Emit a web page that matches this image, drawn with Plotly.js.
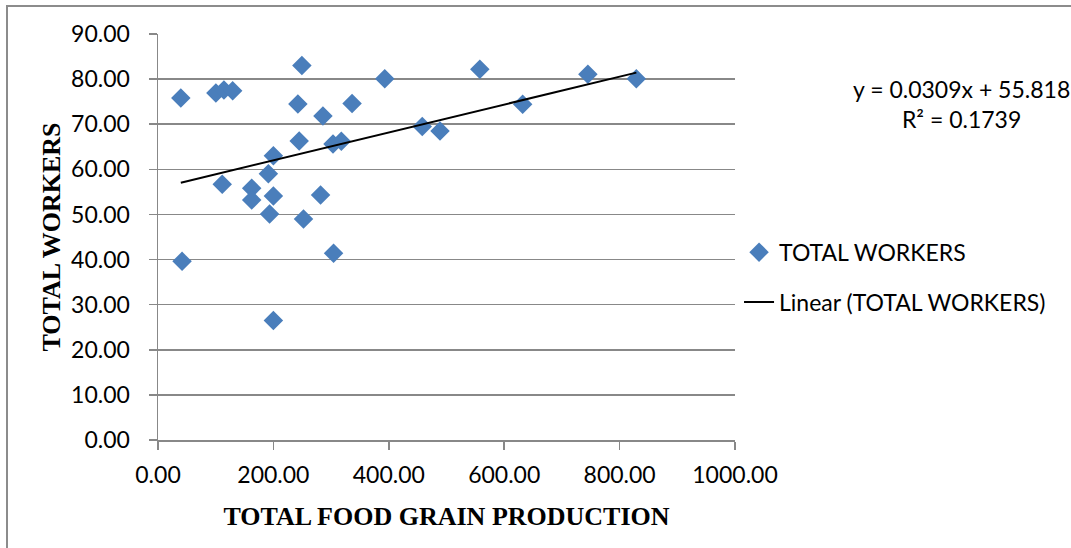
<!DOCTYPE html>
<html>
<head>
<meta charset="utf-8">
<script src="https://cdn.plot.ly/plotly-3.0.1.min.js"></script>
<style>html,body{margin:0;padding:0;background:#fff;}#chart{width:1071px;height:548px;}</style>
</head>
<body>
<div id="chart"></div>
<script>
// Data
const foodGrain = [39.5, 100.3, 114.3, 129.4, 249.4, 393.0, 242.4, 336.3, 285.9, 458.0,
                   488.7, 244.7, 303.3, 317.7, 200.0, 191.3, 111.3, 162.4, 162.4, 200.0,
                   281.7, 193.4, 252.2, 41.7, 304.3, 200.0, 557.7, 632.0, 745.0, 829.0];
const totalWorkers = [75.8, 76.9, 77.6, 77.4, 83.0, 80.1, 74.5, 74.6, 71.8, 69.5,
                      68.5, 66.3, 65.6, 66.2, 63.0, 59.0, 56.7, 55.8, 53.2, 54.1,
                      54.3, 50.1, 49.0, 39.6, 41.4, 26.5, 82.2, 74.4, 81.1, 80.1];
const trendSlope = 0.0309;
const trendIntercept = 55.818;
const rSquared = 0.1739;
const seriesName = "TOTAL WORKERS";
const trendName = "Linear (TOTAL WORKERS)";
const xTitle = "TOTAL FOOD GRAIN PRODUCTION";
const yTitle = "TOTAL WORKERS";

const xMin = Math.min(...foodGrain), xMax = Math.max(...foodGrain);
const trendX = [xMin, xMax];
const trendY = trendX.map(v => trendSlope * v + trendIntercept);

const tickFont = {family: "Lato, 'Open Sans', sans-serif", size: 23, color: "#000"};
const titleFont = {family: "'Liberation Serif', 'Times New Roman', serif", size: 26, color: "#000", weight: "bold"};
const gridCol = "#888888";

const traces = [
  {
    type: "scatter", mode: "markers", x: foodGrain, y: totalWorkers, name: seriesName,
    legendgroup: "a",
    marker: {symbol: "diamond", size: 15, color: "#4A7EBB", line: {width: 0}}
  },
  {
    type: "scatter", mode: "lines", x: trendX, y: trendY, name: trendName,
    legendgroup: "b",
    line: {color: "#000000", width: 2}
  }
];

const layout = {
  width: 1071, height: 548,
  margin: {l: 158, r: 336, t: 34, b: 107.5},
  paper_bgcolor: "#ffffff", plot_bgcolor: "#ffffff",
  showlegend: true,
  legend: {
    x: 1.007, xanchor: "left", y: 0.401, yanchor: "middle",
    font: tickFont, bgcolor: "rgba(0,0,0,0)", traceorder: "grouped", tracegroupgap: 17
  },
  xaxis: {
    range: [0, 1000], dtick: 200, tick0: 0, tickformat: ".2f",
    showgrid: false, zeroline: false,
    showline: true, linecolor: gridCol, linewidth: 1.5,
    ticks: "outside", ticklen: 8, tickcolor: gridCol, tickwidth: 1.5,
    tickfont: tickFont, ticklabelstandoff: 6,
    title: {text: xTitle, font: titleFont, standoff: 19}
  },
  yaxis: {
    range: [0, 90], dtick: 10, tick0: 0, tickformat: ".2f",
    showgrid: true, gridcolor: gridCol, gridwidth: 1.5, zeroline: false,
    showline: true, linecolor: gridCol, linewidth: 1.5,
    ticks: "outside", ticklen: 8, tickcolor: gridCol, tickwidth: 1.5,
    tickfont: tickFont, ticklabelstandoff: 14,
    title: {text: yTitle, font: titleFont, standoff: 3}
  },
  annotations: [
    {
      xref: "paper", yref: "paper", x: 1.392, y: 0.828, xanchor: "center", yanchor: "middle",
      showarrow: false, align: "center",
      text: "y = " + trendSlope.toFixed(4) + "x + " + trendIntercept.toFixed(3) + "<br>R² = " + rSquared.toFixed(4),
      font: {family: "Lato, 'Open Sans', sans-serif", size: 23, color: "#000"}
    }
  ],
  shapes: [
    {
      type: "rect", xref: "paper", yref: "paper", layer: "below",
      x0: -0.2617, x1: 1.60, y0: -0.30, y1: 1.0689,
      line: {color: "#8c8c8c", width: 2}, fillcolor: "rgba(0,0,0,0)"
    }
  ]
};

Plotly.newPlot("chart", traces, layout, {displayModeBar: false, staticPlot: true});
</script>
</body>
</html>
